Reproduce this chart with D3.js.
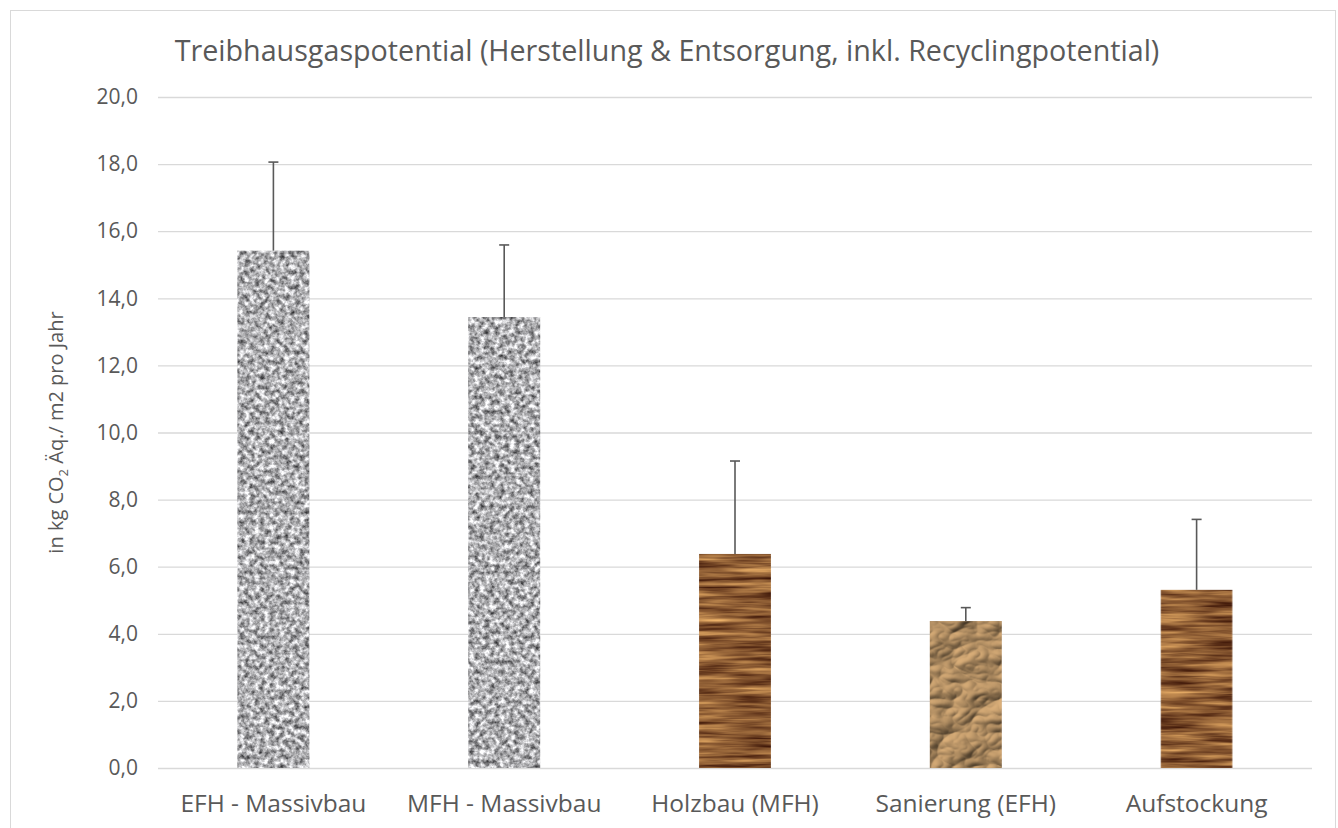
<!DOCTYPE html>
<html lang="de">
<head>
<meta charset="utf-8">
<title>Treibhausgaspotential</title>
<script src="https://cdn.jsdelivr.net/npm/d3@7"></script>
<style>
  html, body { margin: 0; padding: 0; background: #ffffff; }
  svg { display: block; font-family: "Open Sans", "Noto Sans", sans-serif; }
</style>
</head>
<body>
<svg id="chart" width="1338" height="828"></svg>
<script>
// Bauweisen und Treibhausgaspotential (kg CO2-Äq. / m² und Jahr)
const categories = ["EFH - Massivbau", "MFH - Massivbau", "Holzbau (MFH)", "Sanierung (EFH)", "Aufstockung"];
const values = [15.42, 13.44, 6.38, 4.38, 5.31];
// positive Fehlerbalken (Spannweite nach oben)
const errorsPlus = [2.64, 2.15, 2.77, 0.40, 2.10];
const yTicks = [0, 2, 4, 6, 8, 10, 12, 14, 16, 18, 20];
const title = "Treibhausgaspotential (Herstellung & Entsorgung, inkl. Recyclingpotential)";

const svg = d3.select("#chart");
const W = 1338, H = 828;
const plot = { left: 158, right: 1312, top: 97, bottom: 768 };
const textColor = "#595959";
const gridColor = "#d9d9d9";

// Oberflächen-Texturen je Bauweise
const textureOf = {
  "EFH - Massivbau": "granite",
  "MFH - Massivbau": "granite",
  "Holzbau (MFH)": "wood",
  "Sanierung (EFH)": "paper",
  "Aufstockung": "wood"
};

const defs = svg.append("defs");

// Granit: weiches graues Rauschen
const granite = defs.append("filter").attr("id", "granite")
  .attr("x", 0).attr("y", 0).attr("width", 1).attr("height", 1)
  .attr("color-interpolation-filters", "sRGB");
granite.append("feTurbulence").attr("type", "fractalNoise")
  .attr("baseFrequency", 0.2).attr("numOctaves", 3).attr("seed", 7).attr("result", "n");
granite.append("feColorMatrix").attr("in", "n").attr("type", "matrix")
  .attr("values", "1.25 0 0 0 0.06  1.25 0 0 0 0.06  1.25 0 0 0 0.07  0 0 0 0 1")
  .attr("result", "g");
granite.append("feGaussianBlur").attr("in", "g").attr("stdDeviation", 0.5).attr("result", "gb");
granite.append("feComposite").attr("in", "gb").attr("in2", "SourceGraphic").attr("operator", "in");

// Holz: horizontal gestreckte Maserung
const wood = defs.append("filter").attr("id", "wood")
  .attr("x", 0).attr("y", 0).attr("width", 1).attr("height", 1)
  .attr("color-interpolation-filters", "sRGB");
wood.append("feTurbulence").attr("type", "fractalNoise")
  .attr("baseFrequency", "0.015 0.22").attr("numOctaves", 3).attr("seed", 4).attr("result", "n");
wood.append("feColorMatrix").attr("in", "n").attr("type", "matrix")
  .attr("values", "0.9 0 0 0 0.1  0.8 0 0 0 -0.04  0.5 0 0 0 -0.05  0 0 0 0 1")
  .attr("result", "w");
wood.append("feGaussianBlur").attr("in", "w").attr("stdDeviation", "0.8 0.4").attr("result", "wb");
wood.append("feComposite").attr("in", "wb").attr("in2", "SourceGraphic").attr("operator", "in");

// Zerknittertes Packpapier: beleuchtetes Relief
const paper = defs.append("filter").attr("id", "paper")
  .attr("x", 0).attr("y", 0).attr("width", 1).attr("height", 1)
  .attr("color-interpolation-filters", "sRGB");
paper.append("feTurbulence").attr("type", "turbulence")
  .attr("baseFrequency", "0.022 0.03").attr("numOctaves", 3).attr("seed", 11).attr("result", "n");
const light = paper.append("feDiffuseLighting").attr("in", "n")
  .attr("surfaceScale", 4.2).attr("diffuseConstant", 1.0)
  .attr("lighting-color", "#dcb07a").attr("result", "lit");
light.append("feDistantLight").attr("azimuth", 225).attr("elevation", 52);
paper.append("feComposite").attr("in", "lit").attr("in2", "SourceGraphic").attr("operator", "in");

// Diagrammrahmen
svg.append("rect")
  .attr("x", 10.5).attr("y", 10.5).attr("width", W - 13).attr("height", H + 10)
  .attr("fill", "#ffffff").attr("stroke", gridColor).attr("stroke-width", 1);

// Skalen
const x = d3.scaleBand().domain(categories)
  .range([plot.left, plot.right]).paddingInner(0.688).paddingOuter(0.344);
const y = d3.scaleLinear().domain([0, 20]).range([plot.bottom, plot.top]);
const deFormat = d3.formatLocale({ decimal: ",", thousands: ".", grouping: [3], currency: ["", " €"] }).format(".1f");

// Gitternetz + Y-Achse
const yAxis = d3.axisLeft(y).tickValues(yTicks).tickFormat(deFormat)
  .tickSize(-(plot.right - plot.left)).tickPadding(20);
const gy = svg.append("g").attr("transform", `translate(${plot.left},0)`).call(yAxis);
gy.select(".domain").remove();
gy.selectAll(".tick line").attr("stroke", gridColor).attr("stroke-width", 1.3);
gy.selectAll(".tick text").attr("fill", textColor).attr("font-size", 21)
  .attr("font-family", "'Open Sans', sans-serif");

// X-Achse (nur Beschriftung)
const xAxis = d3.axisBottom(x).tickSize(0).tickPadding(27);
const gx = svg.append("g").attr("transform", `translate(0,${plot.bottom})`).call(xAxis);
gx.select(".domain").remove();
gx.selectAll(".tick text").attr("fill", textColor).attr("font-size", 24.5)
  .attr("font-family", "'Open Sans', sans-serif");

// Balken
const rows = categories.map((c, i) => ({ c, v: values[i], e: errorsPlus[i] }));
svg.append("g").selectAll("rect").data(rows).join("rect")
  .attr("x", d => x(d.c))
  .attr("y", d => y(d.v))
  .attr("width", x.bandwidth())
  .attr("height", d => y(0) - y(d.v))
  .attr("fill", "#999")
  .attr("filter", d => `url(#${textureOf[d.c]})`);

// Fehlerbalken
const capHalf = 5;
const eb = svg.append("g").attr("stroke", textColor).attr("stroke-width", 1.6).attr("fill", "none");
eb.selectAll("line.v").data(rows).join("line").attr("class", "v")
  .attr("x1", d => x(d.c) + x.bandwidth() / 2).attr("x2", d => x(d.c) + x.bandwidth() / 2)
  .attr("y1", d => y(d.v)).attr("y2", d => y(d.v + d.e));
eb.selectAll("line.cap").data(rows).join("line").attr("class", "cap")
  .attr("x1", d => x(d.c) + x.bandwidth() / 2 - capHalf).attr("x2", d => x(d.c) + x.bandwidth() / 2 + capHalf)
  .attr("y1", d => y(d.v + d.e)).attr("y2", d => y(d.v + d.e));

// Titel
svg.append("text")
  .attr("x", 667).attr("y", 61)
  .attr("text-anchor", "middle")
  .attr("fill", textColor).attr("font-size", 28.7)
  .text(title);

// Y-Achsentitel mit tiefgestellter 2
const yl = svg.append("text")
  .attr("transform", `translate(63,${(plot.top + plot.bottom) / 2}) rotate(-90)`)
  .attr("text-anchor", "middle")
  .attr("fill", textColor).attr("font-size", 20);
yl.append("tspan").text("in kg CO");
yl.append("tspan").attr("font-size", 13).attr("dy", 5).text("2");
yl.append("tspan").attr("dy", -5).text(" Äq./ m2 pro Jahr");
</script>
</body>
</html>
